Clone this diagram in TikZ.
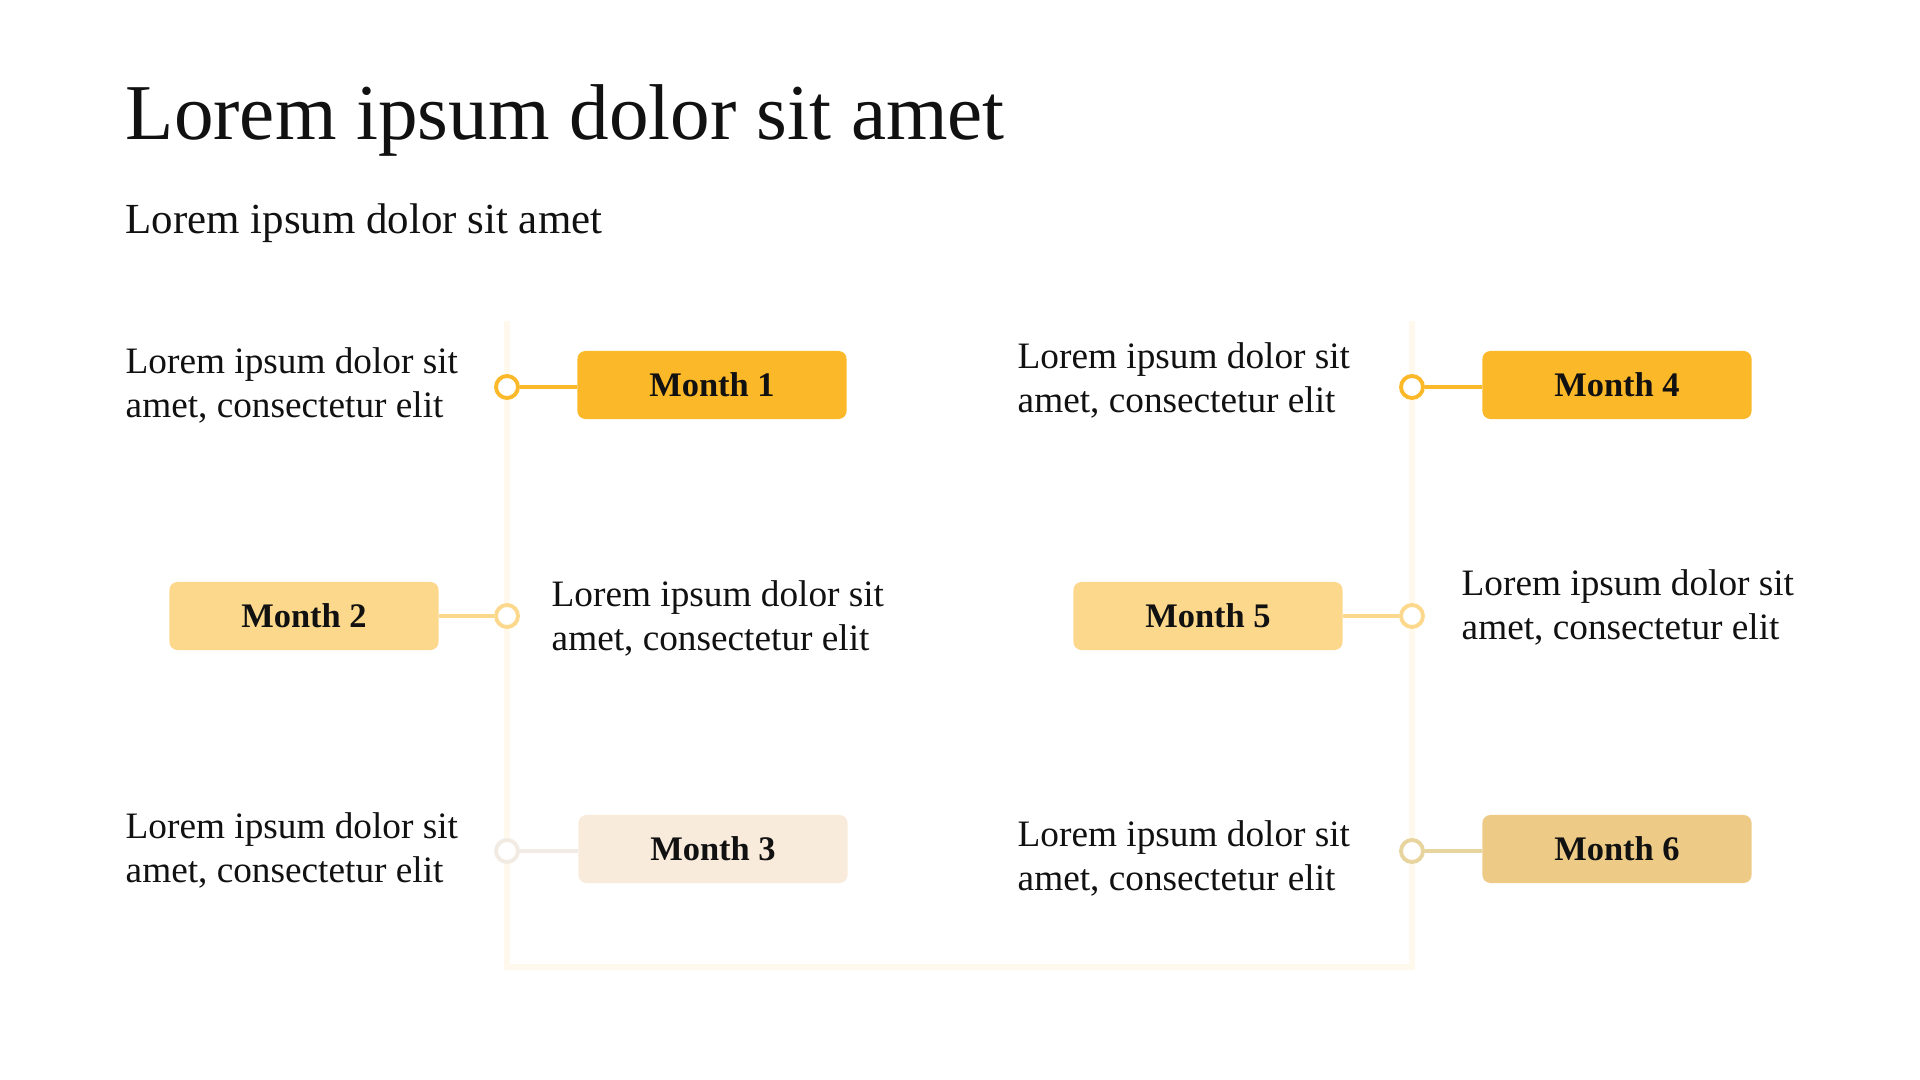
\documentclass[tikz,border=0pt]{standalone}
\usepackage{fontspec}
\setmainfont{Liberation Serif}
\usetikzlibrary{positioning}
\definecolor{monthhigh}{HTML}{FBB828}
\definecolor{monthmid}{HTML}{FBD88B}
\definecolor{monthlow}{HTML}{F9EBDC}
\definecolor{monthgold}{HTML}{EDCB87}
\definecolor{ringlow}{HTML}{F1EBE3}
\definecolor{ringgold}{HTML}{E8D49E}
\definecolor{spine}{HTML}{FEF9EC}
\definecolor{ink}{HTML}{111111}

\begin{document}
\begin{tikzpicture}[x = 0.01cm, y = -0.01cm,
  monthbox/.style = {rounded corners = 0.08cm, minimum width = 2.69cm, minimum height = 0.68cm, inner sep = 0pt, font = \fontsize{9.8}{11}\selectfont\bfseries, text = ink},
  ring/.style = {circle, draw, line width = 1.1pt, fill = white, minimum size = 0.22cm, inner sep = 0pt},
  blurb/.style = {anchor = west, align = left, inner sep = 0pt, font = \fontsize{10.6}{12.5}\selectfont, text = ink},
  link/.style = {line width = 1.1pt}]
\useasboundingbox (0, 0) rectangle (1920, 1080);
% the U shaped spine
\coordinate (spineA) at (507, 321);
\coordinate (spineB) at (507, 967);
\coordinate (spineC) at (1412, 967);
\coordinate (spineD) at (1412, 321);
\draw[spine, line width = 1.6pt] (spineA) -- (spineB) -- (spineC) -- (spineD);
% headings
\node[anchor = base west, inner sep = 0pt, font = \fontsize{22.5}{26}\selectfont, text = ink] (title) at (125, 140){Lorem ipsum dolor sit amet};
\node[anchor = base west, inner sep = 0pt, font = \fontsize{12.2}{14}\selectfont, text = ink] (subtitle) at (125, 234){Lorem ipsum dolor sit amet};
% rings on the spine
\node[ring, draw = monthhigh] (c1) at (507, 387){};
\node[ring, draw = monthmid] (c2) at (507, 616){};
\node[ring, draw = ringlow] (c3) at (507, 851){};
\node[ring, draw = monthhigh] (c4) at (1412, 387){};
\node[ring, draw = monthmid] (c5) at (1412, 616){};
\node[ring, draw = ringgold] (c6) at (1412, 851){};
% month boxes
\node[monthbox, fill = monthhigh] (m1) at (712, 385){Month 1};
\node[monthbox, fill = monthmid] (m2) at (304, 616){Month 2};
\node[monthbox, fill = monthlow] (m3) at (713, 849){Month 3};
\node[monthbox, fill = monthhigh] (m4) at (1617, 385){Month 4};
\node[monthbox, fill = monthmid] (m5) at (1208, 616){Month 5};
\node[monthbox, fill = monthgold] (m6) at (1617, 849){Month 6};
\draw[link, monthhigh] (c1) -- (c1 -| m1.west);
\draw[link, monthmid] (c2) -- (m2);
\draw[link, ringlow] (c3) -- (c3 -| m3.west);
\draw[link, monthhigh] (c4) -- (c4 -| m4.west);
\draw[link, monthmid] (c5) -- (m5);
\draw[link, ringgold] (c6) -- (c6 -| m6.west);
% texts
\node[blurb] (t1) at (125, 385){Lorem ipsum dolor sit\\amet, consectetur elit};
\node[blurb] (t2) at (551, 618){Lorem ipsum dolor sit\\amet, consectetur elit};
\node[blurb] (t3) at (125, 850){Lorem ipsum dolor sit\\amet, consectetur elit};
\node[blurb] (t4) at (1017, 380){Lorem ipsum dolor sit\\amet, consectetur elit};
\node[blurb] (t5) at (1461, 607){Lorem ipsum dolor sit\\amet, consectetur elit};
\node[blurb] (t6) at (1017, 858){Lorem ipsum dolor sit\\amet, consectetur elit};
\end{tikzpicture}
\end{document}
